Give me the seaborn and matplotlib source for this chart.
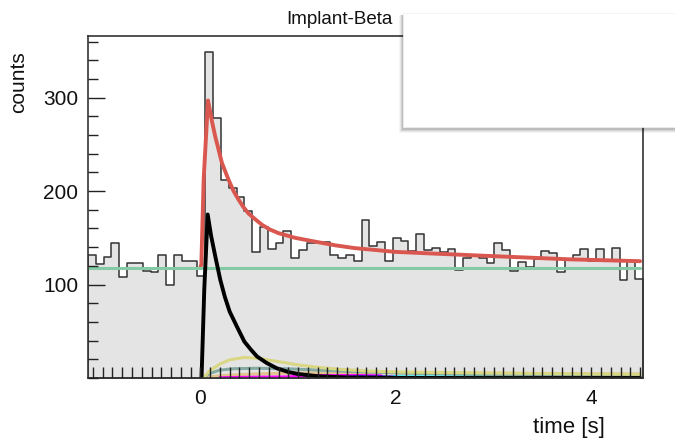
import matplotlib
matplotlib.use('Agg')
import matplotlib.pyplot as plt
from matplotlib.patches import Rectangle
from matplotlib.ticker import MultipleLocator
import numpy as np
import pandas as pd
import seaborn as sns

# --- data ---
# histogram: 71 bins of 0.08 s, first edge at -1.15 s
bin_start = -1.15
bin_width = 0.08
counts = [132, 122, 129, 144, 108, 123, 123, 115, 113, 132, 99, 132, 125, 125, 109,
          349, 278, 212, 203, 194, 179, 135, 162, 138, 145, 157, 128, 137, 144, 146,
          146, 132, 128, 132, 125, 169, 141, 146, 125, 150, 147, 136, 154, 137, 139,
          135, 138, 116, 128, 131, 128, 123, 144, 137, 114, 124, 119, 127, 136, 134,
          113, 127, 132, 138, 125, 138, 125, 139, 105, 125, 106]

# total fit
red_t = [0.0, 0.01, 0.034, 0.078, 0.12, 0.153, 0.19, 0.221, 0.289, 0.34, 0.39, 0.44, 0.493,
         0.56, 0.63, 0.71, 0.80, 0.97, 1.17, 1.38, 1.58, 1.79, 1.99, 2.42, 3.09, 3.78, 4.5]
red_y = [118, 122, 213, 297, 274, 258, 243, 230, 212, 200, 191, 183, 176,
         170, 164, 159, 155, 150, 146, 142, 139, 137, 135, 133, 130, 127, 125]

# background
bg_t = [-1.15, 4.5]
bg_y = [118, 118]

# parent decay
blk_t = [0.012, 0.04, 0.075, 0.11, 0.153, 0.204, 0.25, 0.3, 0.374, 0.45, 0.52, 0.58,
         0.68, 0.78, 0.9, 1.0, 1.2, 1.5, 2.0, 3.0, 4.5]
blk_y = [0, 95, 175, 152, 130, 105, 87, 71, 55, 39, 30, 23,
         16, 10.5, 6.4, 4.3, 1.9, 0.6, 0.1, 0, 0]

# daughter / granddaughter components
khaki_t = [0.03, 0.1, 0.2, 0.3, 0.45, 0.6, 0.8, 1.0, 1.2, 1.4, 1.7, 2.0, 2.5, 3.0, 3.5, 4.0, 4.5]
khaki_y = [0, 8, 15, 19.5, 22, 21, 17.5, 14, 11.5, 9.5, 7.5, 6.5, 5.8, 5.2, 4.8, 4.3, 4.0]
teal_t = [0.02, 0.1, 0.2, 0.35, 0.6, 0.9, 1.2, 1.5, 2.0, 2.5, 3.0, 3.5, 4.0, 4.5]
teal_y = [0, 5, 8.5, 10, 10.4, 9.8, 8.5, 7.2, 5.5, 4.3, 3.3, 2.6, 2.0, 1.5]
tan_t = [0.02, 0.2, 0.5, 0.8, 1.2, 1.8, 2.5, 3.0, 3.5, 4.0, 4.5]
tan_y = [0, 2.5, 4.2, 5.0, 5.5, 5.7, 5.5, 5.2, 4.9, 4.6, 4.3]
mag_t = [0.2, 0.5, 0.9, 1.15, 1.6, 1.85]
mag_y = [0.3, 0.8, 1.2, 2.5, 2.7, 2.3]
blue_t = [1.35, 1.6, 1.9, 2.0]
blue_y = [0.3, 1.2, 1.2, 1.0]
cyan_t = [1.98, 2.4, 2.9, 3.5]
cyan_y = [1.2, 1.0, 0.6, 0.2]
olive_t = [3.4, 4.5]
olive_y = [0.3, 0.5]

sns.set_theme(style='white')
plt.rcParams['font.family'] = ['Liberation Sans', 'DejaVu Sans']

fig = plt.figure(figsize=(6.75, 4.38), dpi=100)
ax = fig.add_axes([88 / 675, 1 - 378 / 438, 555 / 675, 342 / 438])
ax.set_axisbelow(False)

edges = bin_start + bin_width * np.arange(len(counts) + 1)
df = pd.DataFrame({'t': edges[:-1] + bin_width / 2, 'n': counts})
sns.histplot(data=df, x='t', weights='n', bins=list(edges), element='step', fill=True,
             facecolor='#e4e4e4', edgecolor='#333333', linewidth=1.1, ax=ax)

def curve(t, y, color, lw):
    sns.lineplot(x=t, y=y, color=color, linewidth=lw, sort=False, estimator=None, ax=ax)

curve(red_t, red_y, '#d9574f', 2.8)
curve(bg_t, bg_y, '#82cba4', 2.2)
curve(tan_t, tan_y, '#e2c48e', 2.2)
curve(teal_t, teal_y, '#84aaa2', 2.2)
curve(khaki_t, khaki_y, '#d9d784', 2.2)
curve(mag_t, mag_y, '#ff00ff', 2.2)
curve(blue_t, blue_y, '#2a1cf0', 2.2)
curve(cyan_t, cyan_y, '#00ffff', 2.2)
curve(olive_t, olive_y, '#cfd27a', 2.2)
curve(blk_t, blk_y, '#000000', 2.8)

ax.set_xlim(-1.15, 4.53)
ax.set_ylim(0, 366)
ax.set_xticks([0, 2, 4])
ax.set_xticklabels(['0', '2', '4'])
ax.xaxis.set_minor_locator(MultipleLocator(0.1))
ax.set_yticks([100, 200, 300])
ax.yaxis.set_minor_locator(MultipleLocator(20))
ax.tick_params(axis='both', which='both', direction='in', colors='#222222',
               labelsize=15, width=1.0, top=False, right=False, bottom=True, left=True)
ax.tick_params(axis='x', which='major', length=8, pad=8)
ax.tick_params(axis='x', which='minor', length=8)
ax.tick_params(axis='y', which='major', length=12, pad=7)
ax.tick_params(axis='y', which='minor', length=7)
for lab in ax.get_xticklabels() + ax.get_yticklabels():
    lab.set_color('#111111')
for s in ax.spines.values():
    s.set_color('#333333')
    s.set_linewidth(1.2)
ax.set_xlabel('')
ax.set_ylabel('')

fig.text(605 / 675, 1 - 427 / 438, 'time [s]', ha='right', va='center', fontsize=16, color='#111111')
fig.text(19 / 675, 1 - 82 / 438, 'counts', rotation=90, ha='center', va='center', fontsize=15, color='#111111')
fig.text(339 / 675, 1 - 20 / 438, 'Implant-Beta', ha='center', va='center', fontsize=13.5, color='#111111')

# empty legend box with soft shadow
bx0, by0, bx1, by1 = 403, 13, 690, 127
for i, a in enumerate([0.04, 0.06, 0.08, 0.10]):
    g = 4 - i
    fig.patches.append(Rectangle(((bx0 - g) / 675, 1 - (by1 + 2 + g) / 438),
                                 (bx1 - bx0 + 2 * g) / 675, (by1 - by0 + g) / 438,
                                 transform=fig.transFigure, facecolor='#000000',
                                 alpha=a, edgecolor='none', zorder=5))
fig.patches.append(Rectangle((bx0 / 675, 1 - by1 / 438), (bx1 - bx0) / 675, (by1 - by0) / 438,
                             transform=fig.transFigure, facecolor='white',
                             edgecolor='#f0f0f0', linewidth=0.5, zorder=6))

fig.savefig('out.png', dpi=100)
